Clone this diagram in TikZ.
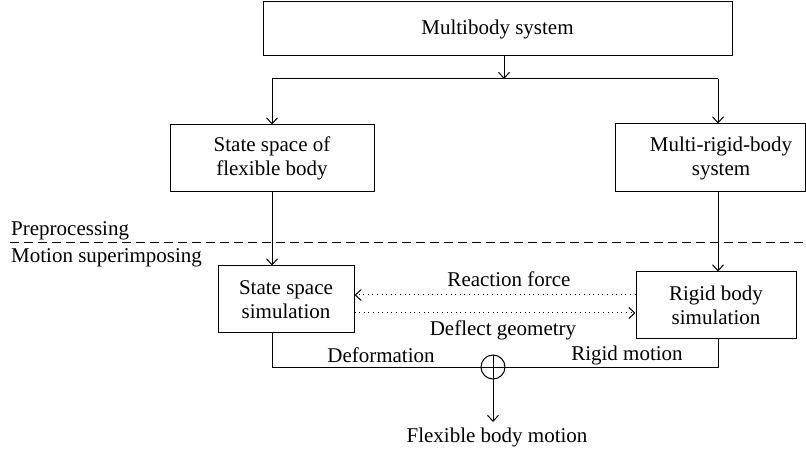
\documentclass[tikz,border=0pt]{standalone}
\usepackage{fontspec}
\setmainfont{Liberation Serif}
\usetikzlibrary{arrows.meta}
\begin{document}
\begin{tikzpicture}[x=1pt,y=-1pt,
  every node/.style={font=\fontsize{21}{24}\selectfont},
  box/.style={draw,line width=1pt,inner sep=0pt,align=center},
  lbl/.style={inner sep=0pt,align=center},
  con/.style={line width=1pt,-{Straight Barb[length=6pt,width=11pt,line width=1pt]}},
  ln/.style={line width=1pt},
  dot/.style={line width=1pt,dash pattern=on 1pt off 3.6pt,-{Straight Barb[length=6pt,width=11pt,line width=1pt]}}]
\useasboundingbox (0,0) rectangle (806,454);
% boxes
\node[box,minimum width=469pt,minimum height=54pt] (top) at (497.5,29) {Multibody system};
\node[box,minimum width=204pt,minimum height=67pt] (ssfb) at (272,158.5) {State space of\\flexible body};
\node[box,minimum width=190pt,minimum height=68pt] (mrb) at (710,158) {};
\node[lbl] (mrbt) at (721,158) {Multi-rigid-body\\system};
\node[box,minimum width=136pt,minimum height=67pt] (sss) at (286,299.5) {State space\\simulation};
\node[box,minimum width=160pt,minimum height=67pt] (rbs) at (716,305.5) {Rigid body\\simulation};
\node[draw,circle,line width=1pt,minimum size=24pt,inner sep=0pt] (sum) at (493,367) {};
% coordinates
\coordinate (t1) at (504,79);
\coordinate (tl) at (272,79);
\coordinate (tr) at (718,79);
\coordinate (bl) at (272,367);
\coordinate (br) at (718,367);
\coordinate (out) at (493,422);
\coordinate (dl) at (10,243);
\coordinate (dr) at (806,243);
% connectors
\draw[con] (top.south -| t1) -- (t1);
\draw[ln] (tl) -- (tr);
\draw[con] (tl) -- (tl |- ssfb.north);
\draw[con] (tr) -- (tr |- mrb.north);
\draw[con] (ssfb.south) -- (sss.north -| ssfb.south);
\draw[con] (mrb.south -| tr) -- (rbs.north -| tr);
\draw[dot] (rbs.west |- 0,295) -- (sss.east |- 0,295);
\draw[dot] (sss.east |- 0,313) -- (rbs.west |- 0,313);
\draw[ln] (sss.south -| bl) -- (bl) -- (br) -- (rbs.south -| br);
\draw[ln] (sum.north) -- (sum.south);
\draw[con] (sum.south) -- (out);
\draw[line width=1pt,dash pattern=on 9pt off 5pt] (dl) -- (dr);
% labels
\node[lbl,anchor=west] (pre) at (11,231) {Preprocessing};
\node[lbl,anchor=west] (mot) at (11,258) {Motion superimposing};
\node[lbl] (rf) at (509,279) {Reaction force};
\node[lbl] (dg) at (503,330) {Deflect geometry};
\node[lbl] (def) at (381,355) {Deformation};
\node[lbl] (rm) at (627,355) {Rigid motion};
\node[lbl] (fbm) at (497,437) {Flexible body motion};
\end{tikzpicture}
\end{document}
